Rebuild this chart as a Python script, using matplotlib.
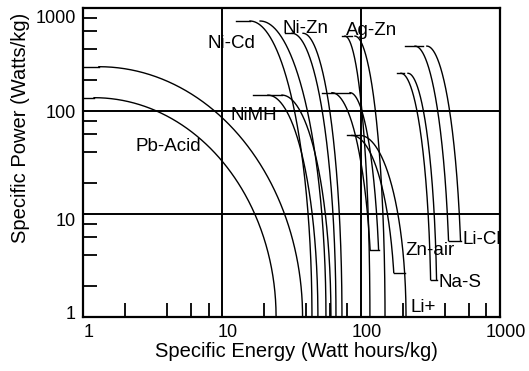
import numpy as np
import matplotlib
matplotlib.use("Agg")
import matplotlib.pyplot as plt
from matplotlib.ticker import LogLocator, NullFormatter, FixedLocator, FixedFormatter
from matplotlib.transforms import ScaledTranslation

plt.rcParams['font.family'] = ['Liberation Sans', 'DejaVu Sans']

# Ragone arcs per chemistry: (peak power W/kg, energy where roll-off starts, energy limit Wh/kg)
pb_acid = [(270, 1.3, 38.0), (135, 1.2, 24.5)]
ni_cd = [(750, 15.9, 44.4), (750, 18.8, 56.0)]
nimh = [(143, 21.4, 49.0), (143, 27.0, 60.8)]
ni_zn = [(570, 31.9, 66.1), (570, 38.3, 73.0)]
ag_zn = [(535, 76.7, 116.0), (535, 90.5, 149.0)]
zn_air = [(151, 61.8, 120.0), (151, 83.4, 137.0)]
li_ion = [(58, 86.0, 176.0), (58, 98.4, 211.0)]
na_s = [(233, 194.0, 319.0), (233, 218.0, 352.0)]
li_cl = [(428, 245.0, 437.0), (428, 298.0, 533.0)]

# lowest power each band is drawn to (left arc, right arc)
floors = {
    "zn_air": (4.5, 4.5),
    "li_ion": (2.7, 1.0),
    "na_s": (2.3, 2.3),
    "li_cl": (5.5, 5.5),
}

# flat tops: (power, energy from, energy to)
caps = [
    (270, 1.0, 1.3), (135, 1.0, 1.2),
    (750, 12.6, 15.9), (143, 16.7, 27.0), (570, 28.4, 31.9),
    (535, 73.0, 86.0), (151, 52.4, 83.4), (58, 79.3, 98.4),
    (233, 181.6, 204.0), (428, 207.0, 279.0),
]

labels = ["Pb-Acid", "Ni-Cd", "NiMH", "Ni-Zn", "Ag-Zn", "Zn-air", "Na-S", "Li-Cl", "Li+"]
label_e = [4.09, 11.6, 17.0, 40.2, 120.0, 314.0, 515.0, 742.0, 279.0]
label_p = [45.8, 457.0, 91.5, 640.0, 611.0, 4.47, 2.14, 5.7, 1.25]


def arc(p_top, e0, e1, p_floor=1.0):
    # quarter ellipse in log-log space: flat at the top, vertical at e1
    v0 = np.log10(p_top)
    t_end = np.arccos(np.log10(p_floor) / v0)
    t = np.linspace(0, t_end, 300)
    u = np.log10(e0) + (np.log10(e1) - np.log10(e0)) * np.sin(t)
    v = v0 * np.cos(t)
    return 10 ** u, 10 ** v


fig = plt.figure(figsize=(5.29, 3.71), dpi=100)
ax = fig.add_axes([0.157, 0.1456, 0.788, 0.8324])
ax.set_xscale('log')
ax.set_yscale('log')
ax.set_xlim(1, 1000)
ax.set_ylim(1, 1000)

groups = {
    "pb_acid": pb_acid, "ni_cd": ni_cd, "nimh": nimh, "ni_zn": ni_zn,
    "ag_zn": ag_zn, "zn_air": zn_air, "li_ion": li_ion, "na_s": na_s, "li_cl": li_cl,
}
for key, arcs in groups.items():
    fl = floors.get(key, (1.0, 1.0))
    ends = []
    for (p, e0, e1), f in zip(arcs, fl):
        e, pw = arc(p, e0, e1, f)
        ax.plot(e, pw, color='k', lw=1.0)
        ends.append((e, pw))
    if fl[0] > 1.0:
        # close the band along its lowest power
        p, e0, e1 = arcs[1]
        v0 = np.log10(p)
        s = np.sin(np.arccos(np.log10(fl[0]) / v0))
        e_right = 10 ** (np.log10(e0) + (np.log10(e1) - np.log10(e0)) * s)
        ax.plot([ends[0][0][-1], e_right], [fl[0], fl[0]], color='k', lw=1.0)

for p, ea, eb in caps:
    ax.plot([ea, eb], [p, p], color='k', lw=1.0)

for name, e, p in zip(labels, label_e, label_p):
    ax.text(e, p, name, fontsize=13.5, ha='center', va='center', clip_on=False)

ax.grid(which='major', color='k', lw=1.4)
ax.xaxis.set_major_locator(FixedLocator([1, 10, 100, 1000]))
ax.yaxis.set_major_locator(FixedLocator([1, 10, 100, 1000]))
ax.xaxis.set_major_formatter(FixedFormatter(["1", "10", "100", "1000"]))
ax.yaxis.set_major_formatter(FixedFormatter(["1", "10", "100", "1000"]))
ax.xaxis.set_minor_locator(LogLocator(base=10, subs=(2, 4, 6, 8)))
ax.yaxis.set_minor_locator(LogLocator(base=10, subs=(2, 4, 6, 8)))
ax.xaxis.set_minor_formatter(NullFormatter())
ax.yaxis.set_minor_formatter(NullFormatter())
ax.tick_params(which='major', length=0, labelsize=13, pad=5)
ax.tick_params(which='minor', direction='in', length=10, width=1.3)
for s in ax.spines.values():
    s.set_linewidth(1.6)

for lab in ax.get_xticklabels():
    lab.set_transform(lab.get_transform() + ScaledTranslation(0.06, 0, fig.dpi_scale_trans))
for lab, dy in zip(ax.get_yticklabels(), [0.04, -0.05, 0.0, -0.08]):
    lab.set_transform(lab.get_transform() + ScaledTranslation(0, dy, fig.dpi_scale_trans))

ax.set_xlabel("Specific Energy (Watt hours/kg)", fontsize=14.5)
ax.set_ylabel("Specific Power (Watts/kg)", fontsize=14.5)
ax.xaxis.label.set_va('center')
ax.yaxis.label.set_va('center')
ax.xaxis.set_label_coords(0.511, -0.113)
ax.yaxis.set_label_coords(-0.151, 0.612)

fig.savefig('out.png', dpi=100)
